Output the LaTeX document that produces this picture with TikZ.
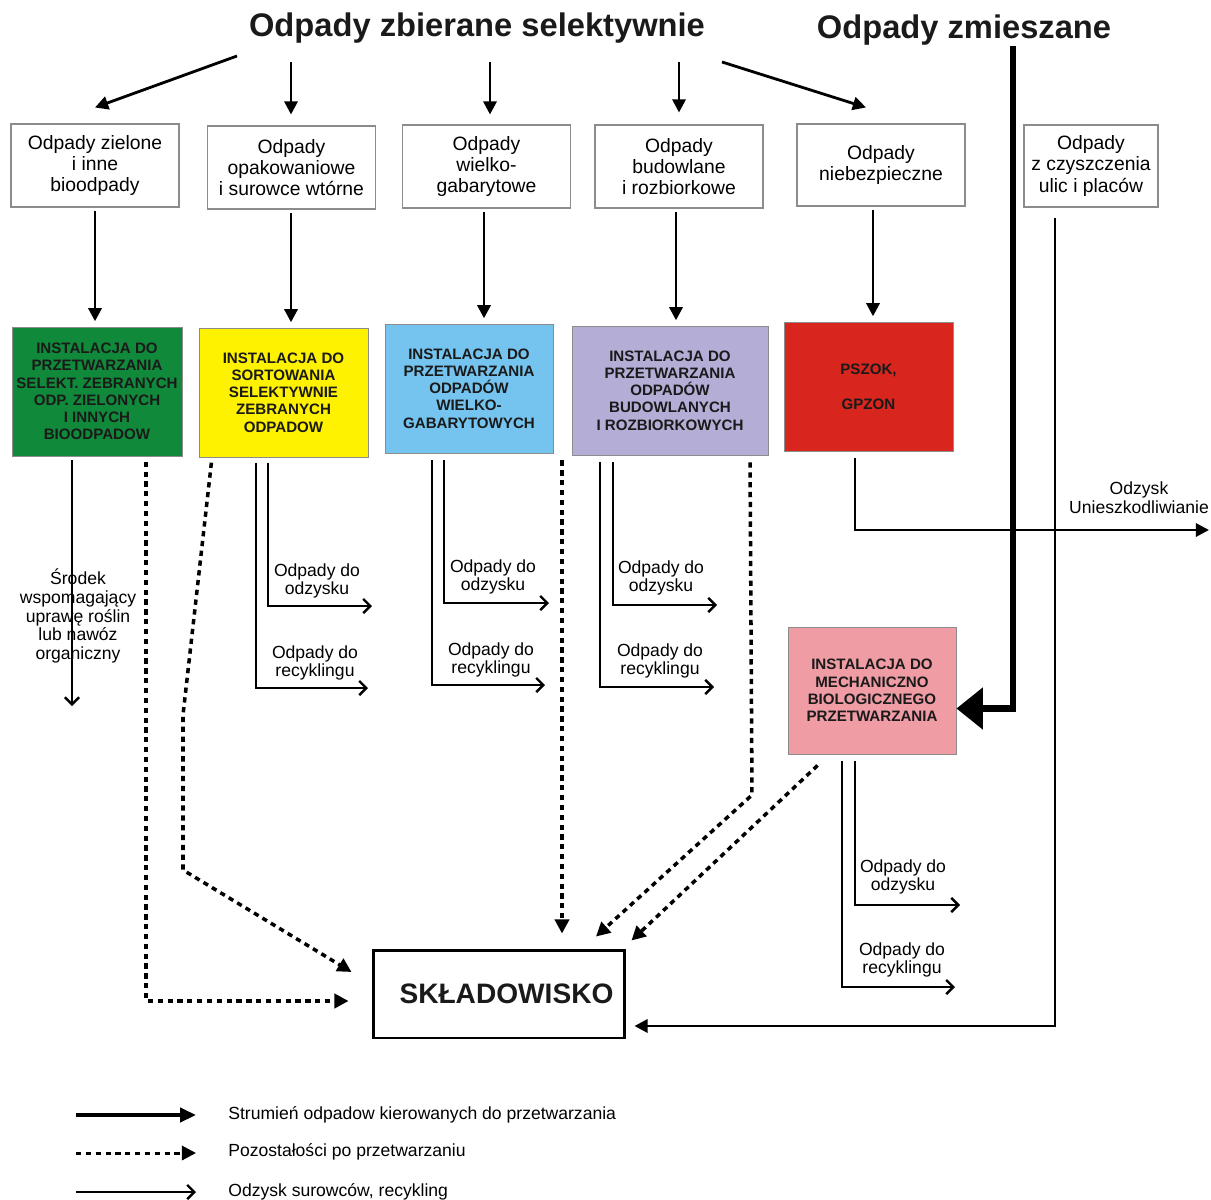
\documentclass[tikz,border=0pt]{standalone}
\usepackage{fontspec}
\setmainfont{Liberation Sans}
\usetikzlibrary{arrows.meta,positioning}
\definecolor{GreenBox}{HTML}{10893A}
\definecolor{YellowBox}{HTML}{FFF200}
\definecolor{BlueBox}{HTML}{74C4EF}
\definecolor{LilacBox}{HTML}{B4AED6}
\definecolor{RedBox}{HTML}{D8261E}
\definecolor{PinkBox}{HTML}{EF9CA4}
\definecolor{Frame}{HTML}{8C8C8C}
\definecolor{Ink}{HTML}{1A1A1A}

\tikzset{
  source/.style={draw=Frame, line width=0.6pt, fill=white, align=center,
    font=\fontsize{11}{12}\selectfont, minimum width=3.36cm, minimum height=1.66cm, inner sep=1pt},
  plant/.style={draw=Frame, line width=0.5pt, align=center, text=Ink,
    font=\fontsize{8.6}{9.8}\selectfont\bfseries, minimum width=3.38cm, minimum height=2.58cm, inner sep=1pt},
  heading/.style={inner sep=0pt, text=Ink, font=\fontsize{18.6}{22}\selectfont\bfseries},
  flow/.style={line width=1.6pt, -{Triangle[length=7.5pt,width=7.5pt]}},
  rest/.style={line width=2pt, dash pattern=on 3pt off 2.6pt, -{Triangle[length=8pt,width=8pt]}},
  recov/.style={line width=1.4pt, -{Straight Barb[length=4pt,width=8pt]}},
  heavy/.style={line width=3.6pt, -{Triangle[length=15pt,width=23pt]}},
  lab/.style={align=center, font=\fontsize{10}{10.6}\selectfont, inner sep=0pt},
}

\begin{document}
\begin{tikzpicture}[x=0.02cm, y=-0.02cm]
    \useasboundingbox (0,0) rectangle (1211,1200);

    % titles
    \node[heading] (sel) at (477,28) {Odpady zbierane selektywnie};
    \node[heading] (mix) at (964,30) {Odpady zmieszane};

    % waste streams
    \node[source] (z1) at (95,165.5) {Odpady zielone\\i inne\\bioodpady};
    \node[source] (z2) at (291.5,167.5) {Odpady\\opakowaniowe\\i surowce wtórne};
    \node[source] (z3) at (486.5,166.5) {Odpady\\wielko-\\gabarytowe};
    \node[source] (z4) at (679,166.5) {Odpady\\budowlane\\i rozbiorkowe};
    \node[source, minimum height=1.64cm] (z5) at (881,165) {Odpady\\niebezpieczne};
    \node[source, minimum width=2.68cm, minimum height=1.64cm] (z6) at (1091,166) {Odpady\\z czyszczenia\\ulic i placów};

    % installations
    \node[plant, fill=GreenBox, minimum width=3.4cm] (i1) at (97,391.5) {INSTALACJA DO\\PRZETWARZANIA\\SELEKT. ZEBRANYCH\\ODP. ZIELONYCH\\I INNYCH\\BIOODPADOW};
    \node[plant, fill=YellowBox] (i2) at (283.5,392.5) {INSTALACJA DO\\SORTOWANIA\\SELEKTYWNIE\\ZEBRANYCH\\ODPADOW};
    \node[plant, fill=BlueBox, minimum width=3.36cm] (i3) at (469,388.5) {INSTALACJA DO\\PRZETWARZANIA\\ODPADÓW\\WIELKO-\\GABARYTOWYCH};
    \node[plant, fill=LilacBox, minimum width=3.92cm] (i4) at (670,390.5) {INSTALACJA DO\\PRZETWARZANIA\\ODPADÓW\\BUDOWLANYCH\\I ROZBIORKOWYCH};
    \node[plant, fill=RedBox] (i5) at (868.5,386.5) {PSZOK,\\[10pt]GPZON};
    \node[plant, fill=PinkBox, minimum width=3.36cm, minimum height=2.54cm] (i6) at (872,690.5) {INSTALACJA DO\\MECHANICZNO\\BIOLOGICZNEGO\\PRZETWARZANIA};

    % landfill
    \node[draw, line width=1.7pt, minimum width=5.04cm, minimum height=1.76cm, text=Ink,
      font=\fontsize{16}{18}\selectfont\bfseries] (skl) at (499,994) {\hspace{0.3cm}SKŁADOWISKO};

    % title -> streams
    \coordinate (s1) at (237,56);
    \coordinate (s2) at (291,62);
    \coordinate (s3) at (490,62);
    \coordinate (s4) at (679,62);
    \coordinate (s5) at (722,62);
    \draw[flow] (s1) -- ([yshift=0.32cm]z1.north);
    \draw[flow] (s2) -- ([yshift=0.22cm]s2 |- z2.north);
    \draw[flow] (s3) -- ([yshift=0.2cm]s3 |- z3.north);
    \draw[flow] (s4) -- ([yshift=0.24cm]s4 |- z4.north);
    \draw[flow] (s5) -- ([xshift=-0.3cm,yshift=0.32cm]z5.north);

    % streams -> installations
    \draw[flow, shorten <=2pt, shorten >=3pt] (95,0 |- z1.south) -- (95,0 |- i1.north);
    \draw[flow, shorten <=2pt, shorten >=3pt] (291,0 |- z2.south) -- (291,0 |- i2.north);
    \draw[flow, shorten <=2pt, shorten >=3pt] (484,0 |- z3.south) -- (484,0 |- i3.north);
    \draw[flow, shorten <=2pt, shorten >=3pt] (676,0 |- z4.south) -- (676,0 |- i4.north);
    \draw[flow, shorten <=2pt, shorten >=3pt] (873,0 |- z5.south) -- (873,0 |- i5.north);

    % green
    \coordinate (g1) at (72,706);
    \draw[recov, shorten <=2pt] (72,0 |- i1.south) -- (g1);
    \node[lab] (srodek) at (78,616) {Środek\\wspomagający\\uprawę roślin\\lub nawóz\\organiczny};
    \draw[rest, shorten <=3pt] (146,0 |- i1.south) |- ([xshift=-0.46cm,yshift=-0.14cm]skl.west);

    % yellow
    \draw[rest, shorten <=3pt] (212,0 |- i2.south) -- (183,715) -- (183,870) -- ([xshift=-0.4cm,yshift=0.44cm]skl.west);
    \draw[recov, shorten <=3pt] (256,0 |- i2.south) |- (368,688);
    \draw[recov, shorten <=3pt] (268,0 |- i2.south) |- (372,606);
    \node[lab] (y-odz) at (317,581) {Odpady do\\odzysku};
    \node[lab] (y-rec) at (315,663) {Odpady do\\recyklingu};

    % blue
    \draw[recov, shorten <=4pt] (432,0 |- i3.south) |- (545,685);
    \draw[recov, shorten <=4pt] (444,0 |- i3.south) |- (549,603);
    \node[lab] (b-odz) at (493,577) {Odpady do\\odzysku};
    \node[lab] (b-rec) at (491,660) {Odpady do\\recyklingu};
    \draw[rest, shorten <=4pt, shorten >=0.3cm] (562,0 |- i3.south) -- (562,0 |- skl.north);

    % lilac
    \draw[recov, shorten <=4pt] (600,0 |- i4.south) |- (714,687);
    \draw[recov, shorten <=4pt] (613,0 |- i4.south) |- (717,605);
    \node[lab] (l-odz) at (661,578) {Odpady do\\odzysku};
    \node[lab] (l-rec) at (660,661) {Odpady do\\recyklingu};
    \draw[rest, shorten <=4pt] (750,0 |- i4.south) -- (752,795) -- ([xshift=1.94cm,yshift=0.24cm]skl.north);

    % red
    \coordinate (r1) at (1209,530);
    \draw[flow, shorten <=4pt] (855,0 |- i5.south) |- (r1);
    \node[lab] (odzysk) at (1139,498) {Odzysk\\Unieszkodliwianie};

    % mixed waste
    \draw[heavy] (1013,0 |- mix.south) |- ([yshift=-0.36cm]i6.east);

    % pink
    \draw[rest] ([xshift=0.6cm,yshift=-0.22cm]i6.south west) -- ([xshift=0.1cm,yshift=0.16cm]skl.north east);
    \draw[recov, shorten <=4pt] (842,0 |- i6.south) |- (955,987);
    \draw[recov, shorten <=4pt] (855,0 |- i6.south) |- (960,905);
    \node[lab] (p-odz) at (903,877) {Odpady do\\odzysku};
    \node[lab] (p-rec) at (902,960) {Odpady do\\recyklingu};

    % street cleaning -> landfill
    \draw[flow, shorten <=6pt] (1055,0 |- z6.south) |- ([xshift=0.16cm,yshift=-0.64cm]skl.east);

    % legend
    \coordinate (k1) at (76,1115);  \coordinate (k1e) at (196,1115);
    \coordinate (k2) at (76,1153);  \coordinate (k2e) at (196,1153);
    \coordinate (k3) at (76,1192);  \coordinate (k3e) at (196,1192);
    \draw[flow, line width=2pt, -{Triangle[length=9pt,width=8pt]}] (k1) -- (k1e);
    \draw[rest, line width=1.7pt] (k2) -- (k2e);
    \draw[recov] (k3) -- (k3e);
    \node[lab, anchor=west] (t1) at (228,1115) {Strumień odpadow kierowanych do przetwarzania};
    \node[lab, anchor=west] (t2) at (228,1152) {Pozostałości po przetwarzaniu};
    \node[lab, anchor=west] (t3) at (228,1192) {Odzysk surowców, recykling};
\end{tikzpicture}
\end{document}
